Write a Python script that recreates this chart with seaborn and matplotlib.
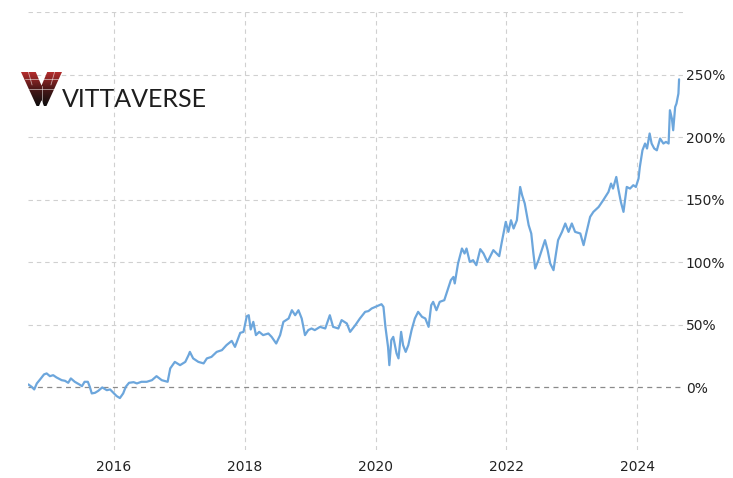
import numpy as np
import matplotlib
matplotlib.use("Agg")
import matplotlib.pyplot as plt
import seaborn as sns
from matplotlib.patches import Polygon
from matplotlib.colors import LinearSegmentedColormap

# ---- data (decimal year, cumulative return %) ----
years = [2014.69, 2014.74, 2014.78, 2014.82, 2014.87, 2014.93, 2014.97, 2015.02, 2015.07, 2015.12,
         2015.20, 2015.25, 2015.30, 2015.34, 2015.40, 2015.47, 2015.51, 2015.55, 2015.60, 2015.63,
         2015.66, 2015.71, 2015.76, 2015.82, 2015.89, 2015.94, 2015.99, 2016.04, 2016.09, 2016.14,
         2016.18, 2016.23, 2016.30, 2016.35, 2016.42, 2016.50, 2016.58, 2016.65, 2016.73, 2016.82,
         2016.86, 2016.93, 2017.01, 2017.09, 2017.14, 2017.16, 2017.21, 2017.29, 2017.37, 2017.42,
         2017.49, 2017.57, 2017.65, 2017.72, 2017.80, 2017.85, 2017.93, 2017.98, 2018.03, 2018.06,
         2018.09, 2018.13, 2018.17, 2018.22, 2018.28, 2018.36, 2018.41, 2018.48, 2018.54, 2018.59,
         2018.67, 2018.72, 2018.77, 2018.82, 2018.87, 2018.92, 2018.97, 2019.02, 2019.07, 2019.15,
         2019.23, 2019.30, 2019.35, 2019.43, 2019.48, 2019.56, 2019.61, 2019.69, 2019.76, 2019.84,
         2019.89, 2019.94, 2020.02, 2020.09, 2020.12, 2020.15, 2020.19, 2020.21, 2020.24, 2020.27,
         2020.32, 2020.35, 2020.39, 2020.42, 2020.46, 2020.50, 2020.55, 2020.60, 2020.65, 2020.71,
         2020.76, 2020.81, 2020.85, 2020.88, 2020.93, 2020.98, 2021.05, 2021.10, 2021.15, 2021.19,
         2021.21, 2021.26, 2021.32, 2021.36, 2021.39, 2021.44, 2021.49, 2021.54, 2021.60, 2021.65,
         2021.71, 2021.80, 2021.85, 2021.89, 2021.93, 2021.99, 2022.03, 2022.07, 2022.11, 2022.16,
         2022.21, 2022.24, 2022.28, 2022.34, 2022.38, 2022.41, 2022.44, 2022.49, 2022.54, 2022.59,
         2022.63, 2022.67, 2022.72, 2022.75, 2022.79, 2022.85, 2022.90, 2022.95, 2023.00, 2023.05,
         2023.13, 2023.18, 2023.22, 2023.28, 2023.33, 2023.41, 2023.48, 2023.56, 2023.60, 2023.63,
         2023.68, 2023.71, 2023.75, 2023.79, 2023.84, 2023.89, 2023.94, 2023.98, 2024.02, 2024.04,
         2024.08, 2024.12, 2024.15, 2024.19, 2024.22, 2024.26, 2024.30, 2024.35, 2024.40, 2024.44,
         2024.48, 2024.50, 2024.53, 2024.55, 2024.58, 2024.60, 2024.63, 2024.64]
returns = [2.4, 0.5, -1.6, 3.2, 6.4, 10.4, 11.2, 9.0, 9.8, 8.0,
           5.8, 5.3, 3.7, 7.2, 4.5, 2.4, 1.0, 4.5, 4.5, 0.5,
           -4.8, -4.3, -2.7, 0.0, -2.2, -1.6, -4.3, -6.9, -8.5, -4.8,
           0.5, 3.7, 4.2, 3.2, 4.5, 4.5, 5.8, 9.0, 5.8, 4.5,
           15.2, 20.4, 17.8, 20.4, 25.8, 28.4, 23.2, 20.4, 19.2, 23.2,
           24.4, 28.4, 29.8, 33.8, 37.2, 32.4, 43.6, 44.4, 56.9, 57.7,
           46.3, 52.4, 41.8, 44.4, 41.8, 43.1, 40.4, 35.1, 41.8, 52.4,
           55.1, 61.7, 57.7, 61.7, 55.1, 41.8, 45.8, 47.1, 45.8, 48.4,
           47.1, 57.7, 48.4, 47.1, 53.8, 51.1, 44.4, 49.8, 55.1, 60.4,
           61.0, 63.1, 64.9, 66.5, 64.4, 48.4, 32.4, 17.8, 37.8, 40.4,
           27.2, 23.2, 44.4, 33.8, 28.4, 33.8, 45.8, 55.1, 60.4, 56.4,
           55.1, 48.4, 65.7, 68.4, 61.7, 68.4, 69.7, 77.7, 85.7, 88.3,
           83.1, 99.0, 111.0, 107.0, 111.0, 100.3, 101.7, 97.7, 110.5, 107.0,
           100.3, 109.7, 107.0, 104.9, 116.3, 132.3, 124.3, 133.6, 127.0, 133.6,
           160.2, 153.6, 147.0, 129.7, 123.0, 108.3, 95.0, 101.7, 109.7, 117.7,
           109.7, 99.0, 93.7, 104.3, 117.7, 124.3, 131.0, 124.3, 131.0, 124.3,
           123.0, 113.7, 123.0, 136.3, 140.3, 144.2, 149.6, 156.2, 162.9, 158.9,
           168.2, 158.9, 148.2, 140.3, 160.2, 158.9, 161.6, 160.2, 166.9, 176.2,
           189.5, 194.9, 190.9, 202.9, 194.9, 190.9, 189.5, 198.9, 194.9, 196.2,
           194.9, 221.5, 214.9, 205.5, 224.1, 226.8, 234.8, 246.2]
year_ticks = [2016, 2018, 2020, 2022, 2024]
pct_ticks = [0, 50, 100, 150, 200, 250]
pct_labels = ["0%", "50%", "100%", "150%", "200%", "250%"]
brand = "VITTAVERSE"

sns.set_style("white")
plt.rcParams["font.family"] = ["DejaVu Sans"]

W, H = 733, 478
fig = plt.figure(figsize=(W / 100, H / 100), dpi=100)
ax = fig.add_axes([28 / W, 1 - 450 / H, (683 - 28) / W, (450 - 12) / H])

grid_kw = dict(color="#d0d0d0", lw=0.8, ls=(0, (4, 3.5)), zorder=0)
for yv in [50, 100, 150, 200, 250, 300]:
    ax.axhline(yv, **grid_kw)
for xv in year_ticks:
    ax.axvline(xv, **grid_kw)
ax.axhline(0, color="#8a8a8a", lw=0.9, ls=(0, (4, 3.5)), zorder=0)

sns.lineplot(x=years, y=returns, ax=ax, color="#6ca6dc", lw=1.6, zorder=3)

ax.set_xlim(2014.685, 2024.70)
ax.set_ylim(-50, 300)
ax.set_xticks(year_ticks)
ax.set_xticklabels([str(y) for y in year_ticks])
ax.set_yticks(pct_ticks)
ax.set_yticklabels(pct_labels)
ax.yaxis.tick_right()
ax.tick_params(axis="y", length=0, pad=2, labelsize=10, labelcolor="#222222")
ax.tick_params(axis="x", length=0, pad=7, labelsize=10, labelcolor="#222222")
for s in ax.spines.values():
    s.set_visible(False)
ax.set_xlabel("")
ax.set_ylabel("")

# ---- logo ----
lax = fig.add_axes([21 / W, 1 - 106 / H, 41 / W, 34 / H])
lax.set_xlim(0, 1)
lax.set_ylim(0, 1)
lax.axis("off")
grad = np.linspace(0, 1, 256).reshape(-1, 1)
cmap = LinearSegmentedColormap.from_list("v", ["#0d0d0d", "#4a1818", "#b52d2d"])
im = lax.imshow(grad, extent=[0, 1, 0, 1], origin="lower", cmap=cmap, aspect="auto")
vpoly = Polygon([(0, 1), (0.36, 1), (0.5, 0.6), (0.64, 1), (1, 1), (0.62, 0.0), (0.38, 0.0)],
                closed=True, transform=lax.transData, facecolor="none", edgecolor="none")
lax.add_patch(vpoly)
im.set_clip_path(vpoly)
for seg in [[(0.18, 1), (0.27, 0.62)], [(0.82, 1), (0.73, 0.62)], [(0.1, 0.78), (0.9, 0.78)],
            [(0.2, 0.5), (0.8, 0.5)], [(0.5, 0.6), (0.5, 0.0)]]:
    xs, ys = zip(*seg)
    lax.plot(xs, ys, color="white", lw=0.6, alpha=0.6)
lax.add_patch(Polygon([(0.44, 0), (0.5, 0.17), (0.56, 0)], closed=True, facecolor="white", edgecolor="none"))

fig.text(62 / W, 1 - 106.5 / H, brand, fontsize=18, family="Lato", fontweight="normal",
         color="#1e1e1e", ha="left", va="baseline")

fig.savefig("out.png", dpi=100, facecolor="white")
